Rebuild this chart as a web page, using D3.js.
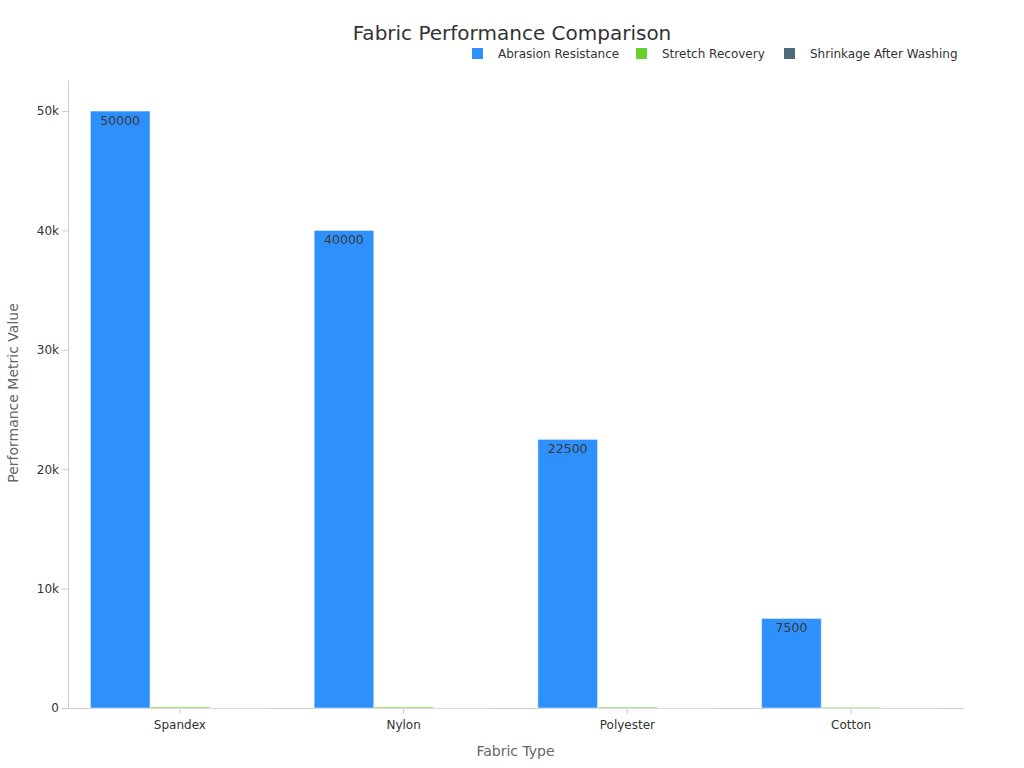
<!DOCTYPE html>
<html>
<head>
<meta charset="utf-8">
<script src="https://cdn.jsdelivr.net/npm/d3@7"></script>
<style>
  body { margin: 0; background: #fff; font-family: "DejaVu Sans", sans-serif; }
  .axis path, .axis line { stroke: #ccc; }
  .axis text { fill: #333; font-size: 12px; font-family: "DejaVu Sans", sans-serif; }
  .axis-label { fill: #666; font-size: 14px; }
</style>
</head>
<body>
<div id="plotArea"></div>
<script>
// Chart data
const fabrics = ["Spandex", "Nylon", "Polyester", "Cotton"];
const seriesNames = ["Abrasion Resistance", "Stretch Recovery", "Shrinkage After Washing"];
const abrasion = [50000, 40000, 22500, 7500];
const stretch = [95, 90, 85, 60];
const shrinkage = [1, 2, 1.5, 5];
const colors = ["#2e90fa", "#66d12a", "#4e6a78"];
const yTicks = [0, 10000, 20000, 30000, 40000, 50000];

const seriesValues = [abrasion, stretch, shrinkage];
const data = fabrics.map((f, i) => ({
    fabric: f,
    values: seriesNames.map((s, j) => ({ series: s, index: j, value: seriesValues[j][i] }))
}));

const margin = {top: 80, right: 61, bottom: 60, left: 68};
const width = 1024 - margin.left - margin.right;
const height = 768 - margin.top - margin.bottom;

const root = d3.select("#plotArea").append("svg")
    .attr("width", 1024)
    .attr("height", 768);

const svg = root.append("g")
    .attr("transform", "translate(" + margin.left + "," + margin.top + ")");

// Scales
const x0 = d3.scaleBand()
    .domain(fabrics)
    .range([0, width])
    .paddingInner(0.2)
    .paddingOuter(0.1);
const x1 = d3.scaleBand()
    .domain(seriesNames)
    .range([0, x0.bandwidth()]);
const y = d3.scaleLinear()
    .domain([0, 52600])
    .range([height, 0]);

// Axes
const xAxis = svg.append("g")
    .attr("class", "axis")
    .attr("transform", "translate(0," + height + ")")
    .call(d3.axisBottom(x0).tickSizeOuter(0).tickPadding(6));
xAxis.selectAll(".tick line").attr("stroke", "#888");

const yAxis = svg.append("g")
    .attr("class", "axis")
    .call(d3.axisLeft(y).tickValues(yTicks).tickSizeOuter(0)
        .tickFormat(d => d === 0 ? "0" : d3.format("~s")(d)));
yAxis.selectAll(".tick line").attr("stroke", "#888");

// Bars
const groups = svg.selectAll(".group")
    .data(data)
    .enter().append("g")
    .attr("transform", d => "translate(" + x0(d.fabric) + ",0)");

groups.selectAll("rect")
    .data(d => d.values)
    .enter().append("rect")
    .attr("x", d => x1(d.series))
    .attr("y", d => y(d.value))
    .attr("width", x1.bandwidth())
    .attr("height", d => height - y(d.value))
    .attr("fill", d => colors[d.index])
    .attr("stroke", "#fff")
    .attr("stroke-opacity", 0.5)
    .attr("stroke-width", 1);

// Value labels on abrasion bars
groups.selectAll(".val")
    .data(d => d.values.filter(v => v.index === 0))
    .enter().append("text")
    .attr("x", d => x1(d.series) + x1.bandwidth() / 2)
    .attr("y", d => y(d.value) + 14)
    .attr("text-anchor", "middle")
    .attr("fill", "#3a3a3a")
    .style("font-size", "12.5px")
    .text(d => d.value);

// Axis labels
svg.append("text")
    .attr("class", "axis-label")
    .attr("text-anchor", "middle")
    .attr("x", width / 2)
    .attr("y", height + 48)
    .text("Fabric Type");
svg.append("text")
    .attr("class", "axis-label")
    .attr("text-anchor", "middle")
    .attr("transform", "rotate(-90)")
    .attr("x", -(393 - margin.top))
    .attr("y", -margin.left + 18)
    .text("Performance Metric Value");

// Title
root.append("text")
    .attr("x", 512)
    .attr("y", 40)
    .attr("text-anchor", "middle")
    .attr("fill", "#333")
    .style("font-size", "20px")
    .text("Fabric Performance Comparison");

// Legend
const legendX = [472, 636, 784];
const legend = root.selectAll(".legend")
    .data(seriesNames)
    .enter().append("g")
    .attr("transform", (d, i) => "translate(" + legendX[i] + ",48)");
legend.append("rect")
    .attr("width", 11)
    .attr("height", 11)
    .attr("fill", (d, i) => colors[i]);
legend.append("text")
    .attr("x", 26)
    .attr("y", 10)
    .attr("fill", "#333")
    .style("font-size", "12px")
    .text(d => d);
</script>
</body>
</html>
